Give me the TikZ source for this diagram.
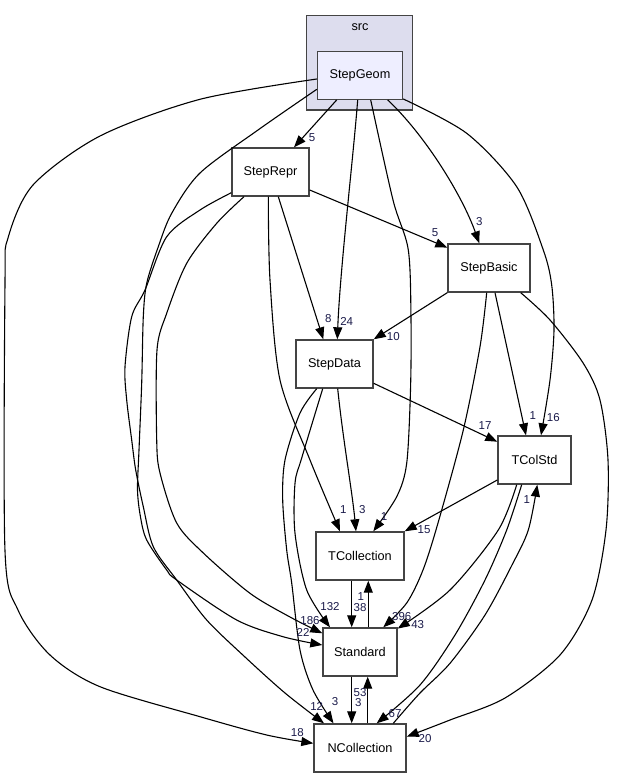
\documentclass[tikz,border=0pt]{standalone}
\usepackage{fontspec}
\setmainfont{Liberation Sans}
\usetikzlibrary{arrows.meta}
\definecolor{bordergrey}{HTML}{444444}
\definecolor{clusterfill}{HTML}{DDDDEE}
\definecolor{mainfill}{HTML}{EEEEFF}
\definecolor{lblcol}{HTML}{1A1A4A}
\begin{document}
\begin{tikzpicture}[x=1pt,y=-1pt,
  box/.style={draw=bordergrey, line width=1.4pt, fill=white, minimum height=48pt, inner sep=0pt, font=\fontsize{12.7}{15}\selectfont},
  edge/.style={line width=1.1pt, -{Triangle[length=12pt,width=9pt]}},
  lbl/.style={font=\fontsize{11.5}{13}\selectfont, text=lblcol, inner sep=0pt},
  clusterbox/.style={draw=bordergrey, fill=clusterfill, line width=1.3pt, inner sep=0pt},
]
\useasboundingbox (0,0) rectangle (623,777);
\fill[white] (0,0) rectangle (623,777);
% cluster
\node[clusterbox, minimum width=106pt, minimum height=94.5pt] (src) at (359.6,62.8) {};
\node[font=\fontsize{12.7}{15}\selectfont, inner sep=0pt] (srclbl) at (360,27.3) {src};
% nodes
\node[box, fill=mainfill, minimum width=85pt, minimum height=47.5pt] (StepGeom) at (360,75.5) {StepGeom};
\node[box, minimum width=77pt] (StepRepr) at (270.5,172) {StepRepr};
\node[box, minimum width=82pt] (StepBasic) at (489,268) {StepBasic};
\node[box, minimum width=77pt] (StepData) at (334.5,364) {StepData};
\node[box, minimum width=73pt] (TColStd) at (534.5,460) {TColStd};
\node[box, minimum width=88pt] (TCollection) at (360,556) {TCollection};
\node[box, minimum width=74pt] (Standard) at (360,652) {Standard};
\node[box, minimum width=92pt] (NCollection) at (360,748) {NCollection};
% edges
\draw[edge] ([xshift=-23.3pt]StepGeom.south) -- ([xshift=23.5pt]StepRepr.north);
\draw[edge] ([xshift=27.7pt]StepGeom.south) .. controls (425,135) and (462,195) .. ([xshift=-9.7pt]StepBasic.north);
\draw[edge] ([xshift=-2.3pt]StepGeom.south) .. controls (353,160) and (340,270) .. ([xshift=2.8pt]StepData.north);
\draw[edge] plot[smooth] coordinates {([xshift=10.7pt]StepGeom.south) (393,200) (408.3,250) (411,320) (410.5,390) (406.7,463.3) (396.7,496.7) ([xshift=13.3pt]TCollection.north)};
\draw[edge] plot[smooth] coordinates {([yshift=1pt]StepGeom.south east) (466.7,133.3) (516.7,186.7) (543.3,250) (551.7,285) (554,330) (550,380) ([xshift=6.5pt]TColStd.north)};
\draw[edge] plot[smooth] coordinates {([yshift=-13.8pt]StepGeom.west) (258,130) (200,173) (171.7,213.3) (158.3,246.7) (146.7,283.3) (143.3,316.7) (141.7,383) (139,450) (137.5,490) (140.5,517) (146.7,540) (166.7,570) (176.7,580) (236.7,620) (283,636.7) ([yshift=7pt]Standard.west)};
\draw[edge] plot[smooth] coordinates {([yshift=-3.5pt]StepGeom.west) (200,99.3) (100,136) (33,185) (8,238) (5,283) (5,551) (18,610) (50,655) (100,686.7) (200,716.7) (266.7,735) ([yshift=4.7pt]NCollection.west)};
\draw[edge] ([yshift=-18pt]StepRepr.east) -- ([yshift=-4.3pt]StepBasic.north west);
\draw[edge] ([xshift=7.8pt]StepRepr.south) -- ([xshift=-11.2pt]StepData.north);
\draw[edge] plot[smooth] coordinates {([xshift=-2.2pt]StepRepr.south) (270,280) (280,380) (310,460) ([xshift=-20pt]TCollection.north)};
\draw[edge] plot[smooth] coordinates {([xshift=-26.5pt]StepRepr.south) (216.7,223.3) (186.7,263.3) (166.7,313.3) (157,350) (156.7,440) (160,473) (176.7,523) (203.3,553) (250,593.3) (290,617) ([yshift=18.7pt]Standard.west)};
\draw[edge] plot[smooth] coordinates {([yshift=-20.7pt]StepRepr.west) (200,210) (166.7,236.7) (145,290) (131.7,316.7) (125,366.7) (126.7,400) (131.7,440) (135.7,470) (143.3,506.7) (153.3,546.7) (176.7,580) (206.7,620) (245,657) (285,693) ([xshift=-36pt]NCollection.north)};
\draw[edge] (StepBasic.south west) -- (StepData.north east);
\draw[edge] ([xshift=6pt]StepBasic.south) -- ([xshift=-8.5pt]TColStd.north);
\draw[edge] plot[smooth] coordinates {([xshift=-2.3pt]StepBasic.south) (480,346.7) (463.3,430) (438,523) (423,570) (406.7,603) ([xshift=23.3pt]Standard.north)};
\draw[edge] plot[smooth] coordinates {([xshift=-10pt]StepBasic.south east) (550,320) (583.3,363.3) (600,400) (608,460) (606,530) (592,600) (560,655) (505,698) (450,720) ([yshift=11.3pt]NCollection.east)};
\draw[edge] ([yshift=-19.3pt]StepData.east) -- ([yshift=18.3pt]TColStd.west);
\draw[edge] ([xshift=3.2pt]StepData.south) .. controls (343,440) and (352,490) .. ([xshift=-4pt]TCollection.north);
\draw[edge] plot[smooth] coordinates {([xshift=-17.8pt]StepData.south) (300,413) (285,460) (282.7,500) (286.7,550) (291.7,583) (300,650) (313,690) ([xshift=-26.5pt]NCollection.north)};
\draw[edge] plot[smooth] coordinates {([xshift=-11.8pt]StepData.south) (301.7,458) (295,483.3) (295,533.3) (306.7,590) ([xshift=-30pt]Standard.north)};
\draw[edge] ([yshift=-20pt]TColStd.west) -- (TCollection.north east);
\draw[edge] plot[smooth] coordinates {([xshift=-17.8pt]TColStd.south) (498.3,530) (450,590) ([yshift=-1.3pt]Standard.north east)};
\draw[edge] plot[smooth] coordinates {([xshift=-12.8pt]TColStd.south) (506.7,530) (485,580) (455,635) (420,685) ([xshift=16.7pt]NCollection.north)};
\draw[edge] plot[smooth] coordinates {([xshift=33.3pt]NCollection.north) (420,693) (450,663.3) (485,615) (512,565) (528.3,530) ([xshift=2.8pt]TColStd.south)};
\draw[edge] ([xshift=-8.3pt]TCollection.south) -- ([xshift=-8.3pt]Standard.north);
\draw[edge] ([xshift=8.3pt]Standard.north) -- ([xshift=8.3pt]TCollection.south);
\draw[edge] ([xshift=-8.3pt]Standard.south) -- ([xshift=-8.3pt]NCollection.north);
\draw[edge] ([xshift=7.7pt]NCollection.north) -- ([xshift=7.7pt]Standard.south);
% labels
\node[lbl] (l1) at (312,138) {5};
\node[lbl] (l2) at (479.3,221.7) {3};
\node[lbl] (l3) at (346.7,321.7) {24};
\node[lbl] (l4) at (384,516.7) {1};
\node[lbl] (l5) at (553.3,417.7) {16};
\node[lbl] (l6) at (303,632.7) {22};
\node[lbl] (l7) at (297.3,732.7) {18};
\node[lbl] (l8) at (435,232.7) {5};
\node[lbl] (l9) at (328.3,318.3) {8};
\node[lbl] (l10) at (343.3,510) {1};
\node[lbl] (l11) at (310,620.7) {186};
\node[lbl] (l12) at (316.7,706) {12};
\node[lbl] (l13) at (393.3,336.7) {10};
\node[lbl] (l14) at (532.7,416) {1};
\node[lbl] (l15) at (401.7,617) {396};
\node[lbl] (l16) at (425,738.3) {20};
\node[lbl] (l17) at (485,425.7) {17};
\node[lbl] (l18) at (362.3,510) {3};
\node[lbl] (l19) at (335,701.7) {3};
\node[lbl] (l20) at (330,607) {132};
\node[lbl] (l21) at (424,529.3) {15};
\node[lbl] (l22) at (417.7,625) {43};
\node[lbl] (l23) at (395,713.3) {67};
\node[lbl] (l24) at (526.7,500) {1};
\node[lbl] (l25) at (360,607.3) {38};
\node[lbl] (l26) at (360.7,596.7) {1};
\node[lbl] (l27) at (358.3,702.7) {3};
\node[lbl] (l28) at (360,692.7) {53};
\end{tikzpicture}
\end{document}
